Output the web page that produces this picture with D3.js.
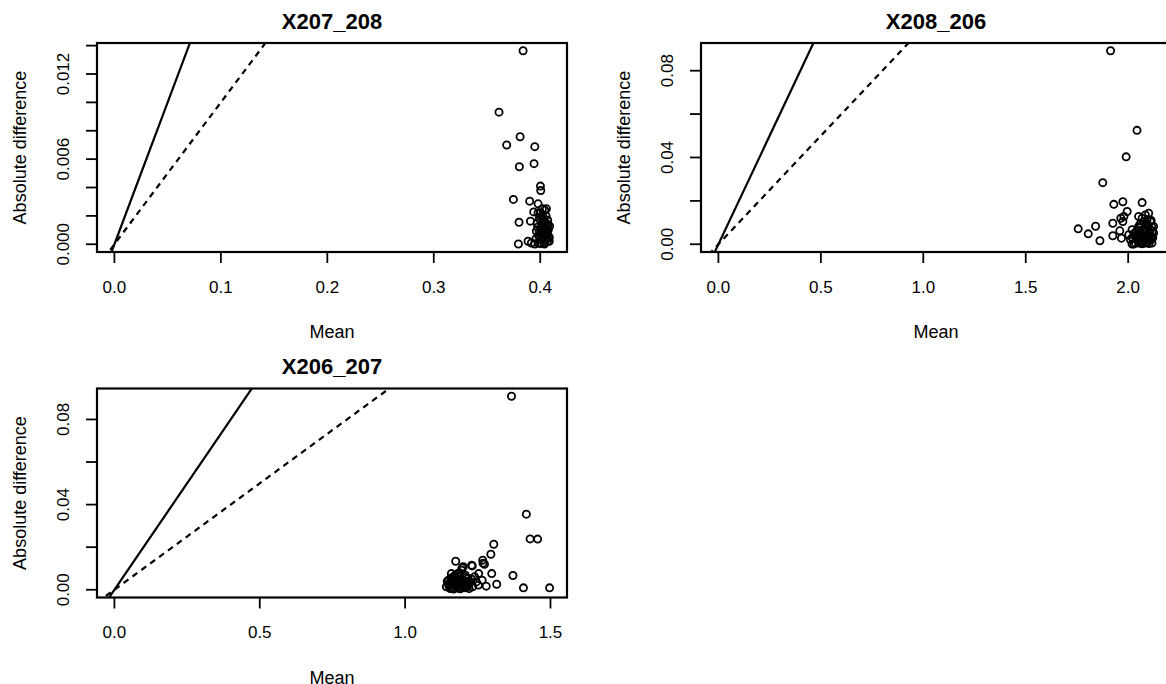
<!DOCTYPE html>
<html>
<head>
<meta charset="utf-8">
<script src="https://cdn.jsdelivr.net/npm/d3@7"></script>
<style>
    body { margin: 0; background: #fff; }
    svg { display: block; }
    text { font-family: "Liberation Sans", Arial, sans-serif; fill: #000; }
</style>
</head>
<body>
<svg id="chart" width="1166" height="684"></svg>
<script>
// ---------------- DATA

var panelTitles = ['X207_208', 'X208_206', 'X206_207'];

// X207_208
var mean207_208 = [0.3839, 0.3613, 0.3811, 0.3685, 0.3949, 0.3804, 0.3942, 0.4002, 0.4005, 0.3748,
    0.3901, 0.3980, 0.4058, 0.3939, 0.3801, 0.3908, 0.3795, 0.3886,
    0.3980, 0.4011, 0.4027, 0.4049, 0.4074, 0.4088, 0.4005, 0.4036, 0.4058, 0.4080,
    0.4011, 0.3980, 0.4043, 0.4085, 0.3949, 0.3917, 0.3996, 0.4027, 0.3964, 0.4058,
    0.4002, 0.4040, 0.4062, 0.3990, 0.4020,
    0.3975, 0.3985, 0.3995, 0.4010, 0.4015, 0.4025, 0.4030, 0.4045, 0.4050, 0.4065,
    0.4070, 0.4075, 0.4000, 0.4020, 0.4055, 0.3960, 0.3970, 0.4035, 0.4060, 0.4085,
    0.4008, 0.4042, 0.3992, 0.4068, 0.4028];
var diff207_208 = [0.01364, 0.00931, 0.00758, 0.00700, 0.00688, 0.00546, 0.00568, 0.00410, 0.00379, 0.00316,
    0.00304, 0.00285, 0.00250, 0.00228, 0.00155, 0.00163, 0.00002, 0.00021,
    0.00221, 0.00198, 0.00174, 0.00151, 0.00139, 0.00127, 0.00116, 0.00093, 0.00069, 0.00045,
    0.00033, 0.00009, 0.00009, 0.00021, 0.00002, 0.00009, 0.00057, 0.00139, 0.00093, 0.00104,
    0.00004, 0.00002, 0.00081, 0.00180, 0.00050,
    0.00120, 0.00060, 0.00180, 0.00120, 0.00030, 0.00080, 0.00160, 0.00110, 0.00040, 0.00070,
    0.00170, 0.00100, 0.00220, 0.00250, 0.00200, 0.00040, 0.00150, 0.00010, 0.00130, 0.00050,
    0.00070, 0.00240, 0.00090, 0.00020, 0.00190];

// X208_206
var mean208_206 = [1.914, 2.043, 1.990, 1.876, 1.930, 1.974, 2.068, 1.995, 1.979, 1.974,
    1.756, 1.805, 1.841, 1.862, 1.925, 1.925, 1.959, 1.967, 2.084, 2.100,
    2.019, 2.035, 2.051, 2.068, 2.084, 2.100, 2.116, 2.108, 2.092, 2.076,
    2.051, 2.035, 2.011, 2.027, 2.084, 2.060, 2.076, 2.116, 2.043, 2.068,
    2.092, 2.124, 2.003, 1.964, 2.051, 2.108, 2.124, 2.019, 2.084, 2.051,
    2.030, 2.045, 2.055, 2.065, 2.070, 2.080, 2.090, 2.095, 2.100, 2.105,
    2.110, 2.115, 2.120, 2.040, 2.060, 2.075, 2.088, 2.098, 2.020, 2.050,
    2.112, 2.072, 2.085, 2.102, 2.118];
var diff208_206 = [0.0892, 0.0525, 0.0403, 0.0284, 0.0184, 0.0196, 0.0192, 0.0151, 0.0128, 0.0105,
    0.0071, 0.0048, 0.0083, 0.0016, 0.0097, 0.0039, 0.0062, 0.0028, 0.0135, 0.0143,
    0.0067, 0.0036, 0.0006, 0.0002, 0.0006, 0.0021, 0.0036, 0.0067, 0.0090, 0.0105,
    0.0082, 0.0006, 0.0021, 0.0001, 0.0067, 0.0052, 0.0029, 0.0006, 0.0044, 0.0120,
    0.0113, 0.0052, 0.0044, 0.0120, 0.0128, 0.0105, 0.0082, 0.0001, 0.0029, 0.0029,
    0.0050, 0.0020, 0.0075, 0.0040, 0.0015, 0.0055, 0.0030, 0.0010, 0.0060, 0.0040,
    0.0020, 0.0080, 0.0030, 0.0060, 0.0095, 0.0070, 0.0100, 0.0085, 0.0030, 0.0045,
    0.0110, 0.0005, 0.0018, 0.0003, 0.0060];

// X206_207
var mean206_207 = [1.366, 1.417, 1.430, 1.456, 1.305, 1.295, 1.371, 1.407, 1.497, 1.174,
    1.267, 1.231, 1.196, 1.273, 1.298, 1.315, 1.279, 1.253,
    1.149, 1.161, 1.174, 1.187, 1.200, 1.155, 1.168, 1.213, 1.226, 1.239,
    1.181, 1.194, 1.207, 1.220, 1.232, 1.245, 1.151, 1.164, 1.177, 1.190,
    1.203, 1.159, 1.216, 1.252, 1.265, 1.142, 1.170, 1.185, 1.160, 1.195, 1.175, 1.205,
    1.150, 1.155, 1.160, 1.165, 1.170, 1.175, 1.180, 1.185, 1.190, 1.195,
    1.200, 1.205, 1.210, 1.215, 1.220, 1.157, 1.167, 1.178, 1.188, 1.198,
    1.208, 1.145, 1.172, 1.192, 1.228, 1.200, 1.229, 1.268];
var diff206_207 = [0.0909, 0.0355, 0.0239, 0.0238, 0.0214, 0.0167, 0.0067, 0.0009, 0.0009, 0.0134,
    0.0139, 0.0112, 0.0103, 0.0120, 0.0076, 0.0026, 0.0017, 0.0076,
    0.0045, 0.0014, 0.0029, 0.0006, 0.0045, 0.0006, 0.0061, 0.0022, 0.0037, 0.0061,
    0.0076, 0.0092, 0.0068, 0.0006, 0.0014, 0.0037, 0.0025, 0.0037, 0.0053, 0.0022,
    0.0011, 0.0076, 0.0053, 0.0022, 0.0045, 0.0014, 0.0030, 0.0040, 0.0050, 0.0015, 0.0010, 0.0030,
    0.0020, 0.0035, 0.0010, 0.0045, 0.0020, 0.0055, 0.0015, 0.0030, 0.0005, 0.0050,
    0.0020, 0.0010, 0.0040, 0.0015, 0.0030, 0.0055, 0.0003, 0.0040, 0.0062, 0.0033,
    0.0058, 0.0040, 0.0068, 0.0018, 0.0050, 0.0108, 0.0115, 0.0125];

// axis ticks; an empty label means the tick is drawn without text (R drops overlapping labels)
var xTicks207_208 = [0, 0.1, 0.2, 0.3, 0.4];
var xLabels207_208 = ['0.0', '0.1', '0.2', '0.3', '0.4'];
var yTicks207_208 = [0, 0.002, 0.004, 0.006, 0.008, 0.010, 0.012, 0.014];
var yLabels207_208 = ['0.000', '', '', '0.006', '', '', '0.012', ''];

var xTicks208_206 = [0, 0.5, 1, 1.5, 2];
var xLabels208_206 = ['0.0', '0.5', '1.0', '1.5', '2.0'];
var yTicks208_206 = [0, 0.02, 0.04, 0.06, 0.08];
var yLabels208_206 = ['0.00', '', '0.04', '', '0.08'];

var xTicks206_207 = [0, 0.5, 1, 1.5];
var xLabels206_207 = ['0.0', '0.5', '1.0', '1.5'];
var yTicks206_207 = [0, 0.02, 0.04, 0.06, 0.08];
var yLabels206_207 = ['0.00', '', '0.04', '', '0.08'];

// reference lines through the origin
var refSlopes = [0.2, 0.1];
var refDash = [null, '6,5'];

// ---------------- LAYOUT

var plotW = 470,
    plotH = 209;

var panels = [
    { title: panelTitles[0], left: 97, top: 43, mean: mean207_208, diff: diff207_208,
      xTicks: xTicks207_208, xLabels: xLabels207_208, yTicks: yTicks207_208, yLabels: yLabels207_208 },
    { title: panelTitles[1], left: 701, top: 43, mean: mean208_206, diff: diff208_206,
      xTicks: xTicks208_206, xLabels: xLabels208_206, yTicks: yTicks208_206, yLabels: yLabels208_206 },
    { title: panelTitles[2], left: 97, top: 388.5, mean: mean206_207, diff: diff206_207,
      xTicks: xTicks206_207, xLabels: xLabels206_207, yTicks: yTicks206_207, yLabels: yLabels206_207 }
];

var svg = d3.select('#chart');

function drawPanel(p, i) {
    var g = svg.append('g').attr('class', 'panel');
    var right = p.left + plotW,
        bottom = p.top + plotH;

    // R style: xlim/ylim start at 0, 4% padding on both ends
    var xMax = d3.max(p.mean),
        yMax = d3.max(p.diff);
    var x = d3.scaleLinear().domain([-0.04 * xMax, 1.04 * xMax]).range([p.left, right]);
    var y = d3.scaleLinear().domain([-0.04 * yMax, 1.04 * yMax]).range([bottom, p.top]);

    var clipId = 'clip' + i;
    g.append('clipPath').attr('id', clipId)
        .append('rect')
        .attr('x', p.left).attr('y', p.top)
        .attr('width', plotW).attr('height', plotH);

    var inner = g.append('g').attr('clip-path', 'url(#' + clipId + ')');

    // abline(0, 0.2) solid and abline(0, 0.1) dashed
    var xd = x.domain();
    refSlopes.forEach(function (s, k) {
        inner.append('line')
            .attr('x1', x(xd[0])).attr('y1', y(xd[0] * s))
            .attr('x2', x(xd[1])).attr('y2', y(xd[1] * s))
            .attr('stroke', '#000')
            .attr('stroke-width', 2.2)
            .attr('stroke-dasharray', refDash[k]);
    });

    inner.selectAll('circle')
        .data(d3.range(p.mean.length))
        .enter().append('circle')
        .attr('cx', function (j) { return x(p.mean[j]); })
        .attr('cy', function (j) { return y(p.diff[j]); })
        .attr('r', 3.6)
        .attr('fill', 'none')
        .attr('stroke', '#000')
        .attr('stroke-width', 1.8);

    // box
    g.append('rect')
        .attr('x', p.left).attr('y', p.top)
        .attr('width', plotW).attr('height', plotH)
        .attr('fill', 'none')
        .attr('stroke', '#000')
        .attr('stroke-width', 2.2);

    // x axis
    p.xTicks.forEach(function (v, k) {
        g.append('line')
            .attr('x1', x(v)).attr('x2', x(v))
            .attr('y1', bottom).attr('y2', bottom + 11)
            .attr('stroke', '#000').attr('stroke-width', 1.8);
        g.append('text')
            .attr('x', x(v)).attr('y', bottom + 35)
            .attr('dy', '0.35em')
            .attr('text-anchor', 'middle')
            .style('font-size', '17px')
            .text(p.xLabels[k]);
    });

    // y axis, labels parallel to the axis
    p.yTicks.forEach(function (v, k) {
        g.append('line')
            .attr('x1', p.left - 11).attr('x2', p.left)
            .attr('y1', y(v)).attr('y2', y(v))
            .attr('stroke', '#000').attr('stroke-width', 1.8);
        if (p.yLabels[k]) {
            g.append('text')
                .attr('transform', 'translate(' + (p.left - 34) + ',' + y(v) + ') rotate(-90)')
                .attr('dy', '0.35em')
                .attr('text-anchor', 'middle')
                .style('font-size', '17px')
                .text(p.yLabels[k]);
        }
    });

    // titles
    g.append('text')
        .attr('x', (p.left + right) / 2).attr('y', p.top - 22)
        .attr('dy', '0.35em')
        .attr('text-anchor', 'middle')
        .style('font-size', '22px')
        .style('font-weight', 'bold')
        .text(p.title);

    g.append('text')
        .attr('x', (p.left + right) / 2).attr('y', bottom + 80)
        .attr('dy', '0.35em')
        .attr('text-anchor', 'middle')
        .style('font-size', '18px')
        .text('Mean');

    g.append('text')
        .attr('transform', 'translate(' + (p.left - 77) + ',' + (p.top + plotH / 2) + ') rotate(-90)')
        .attr('dy', '0.35em')
        .attr('text-anchor', 'middle')
        .style('font-size', '18px')
        .text('Absolute difference');
}

panels.forEach(drawPanel);
</script>
</body>
</html>
